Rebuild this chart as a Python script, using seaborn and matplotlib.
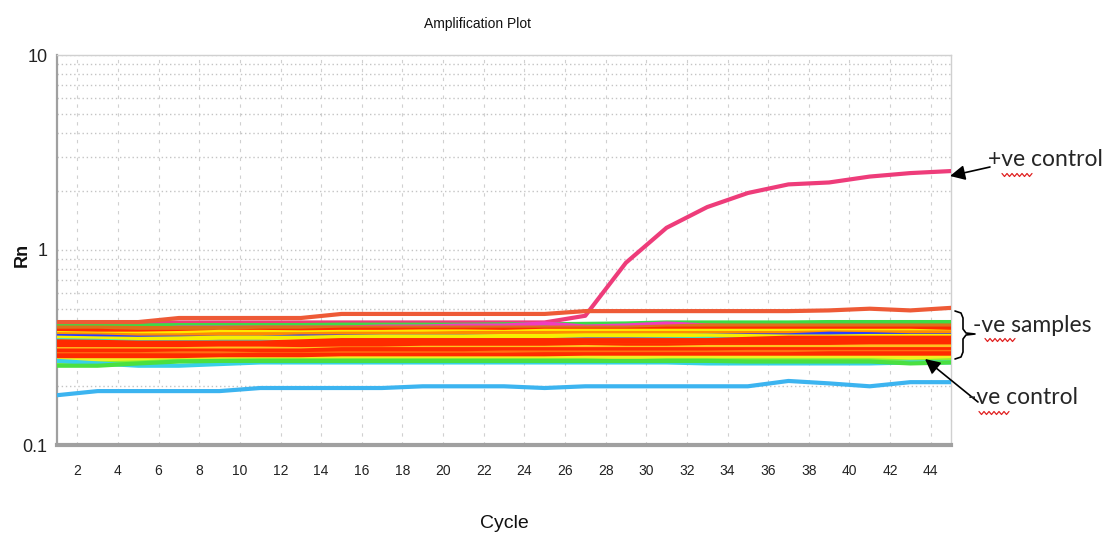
import numpy as np
import pandas as pd
import matplotlib
matplotlib.use("Agg")
import matplotlib.pyplot as plt
import seaborn as sns
from matplotlib.lines import Line2D
from matplotlib.ticker import FixedLocator, NullFormatter

# ---------------- data ----------------
cycles = list(range(1, 46, 2))  # 1,3,...,45
x_ticks = list(range(2, 45, 2))
y_ticks = [0.1, 1, 10]
y_tick_labels = ["0.1", "1", "10"]

pos_control = [0.425, 0.425, 0.425, 0.425, 0.425, 0.425, 0.425, 0.425, 0.425, 0.425, 0.425, 0.425, 0.425,
               0.46, 0.86, 1.30, 1.66, 1.96, 2.17, 2.22, 2.38, 2.48, 2.54]
neg_control = [0.18, 0.189, 0.189, 0.189, 0.189, 0.196, 0.196, 0.196, 0.196, 0.2, 0.2, 0.2, 0.196,
               0.2, 0.2, 0.2, 0.2, 0.2, 0.213, 0.207, 0.2, 0.21, 0.21]
top_sample = [0.427, 0.427, 0.427, 0.448, 0.448, 0.448, 0.448, 0.47, 0.47, 0.47, 0.47, 0.47, 0.47,
              0.486, 0.486, 0.486, 0.486, 0.486, 0.486, 0.49, 0.50, 0.49, 0.505]

band_colors = ["#3cdc46", "#f03cc0", "#e0701a", "#ff2a00", "#ffe800", "#ff8c00", "#2a3cff", "#f6f000",
               "#3ee0c0", "#ff2a00", "#ff9a20", "#ff2a00", "#ff2a00", "#ffc020", "#ff2a00", "#ff2a00",
               "#ff7010", "#ff2a00", "#ff2a00", "#f0f020", "#8cf030", "#38d0e8", "#4ae040"]
band_values = [
    [0.41, 0.41, 0.41, 0.412, 0.412, 0.412, 0.412, 0.414, 0.414, 0.414, 0.414, 0.416, 0.416, 0.418, 0.42, 0.425, 0.425, 0.425, 0.425, 0.427, 0.427, 0.427, 0.427],
    [0.36, 0.37, 0.39, 0.40, 0.40, 0.40, 0.40, 0.40, 0.405, 0.405, 0.41, 0.41, 0.42, 0.405, 0.41, 0.42, 0.41, 0.405, 0.405, 0.405, 0.405, 0.405, 0.405],
    [0.40, 0.40, 0.398, 0.398, 0.398, 0.40, 0.40, 0.40, 0.40, 0.40, 0.40, 0.40, 0.40, 0.40, 0.40, 0.405, 0.41, 0.41, 0.41, 0.41, 0.41, 0.41, 0.41],
    [0.385, 0.385, 0.38, 0.38, 0.38, 0.385, 0.385, 0.39, 0.39, 0.39, 0.39, 0.39, 0.39, 0.39, 0.39, 0.395, 0.395, 0.395, 0.395, 0.395, 0.395, 0.395, 0.395],
    [0.375, 0.372, 0.372, 0.375, 0.38, 0.38, 0.378, 0.38, 0.38, 0.382, 0.382, 0.38, 0.385, 0.385, 0.385, 0.385, 0.385, 0.385, 0.385, 0.385, 0.385, 0.385, 0.38],
    [0.37, 0.368, 0.365, 0.365, 0.37, 0.37, 0.37, 0.372, 0.372, 0.372, 0.375, 0.375, 0.375, 0.375, 0.375, 0.375, 0.375, 0.375, 0.375, 0.378, 0.378, 0.378, 0.378],
    [0.362, 0.36, 0.355, 0.355, 0.355, 0.355, 0.36, 0.36, 0.36, 0.36, 0.36, 0.36, 0.36, 0.36, 0.36, 0.36, 0.365, 0.365, 0.365, 0.372, 0.37, 0.365, 0.365],
    [0.355, 0.352, 0.35, 0.352, 0.355, 0.355, 0.355, 0.358, 0.36, 0.36, 0.36, 0.362, 0.362, 0.365, 0.365, 0.365, 0.365, 0.362, 0.36, 0.36, 0.362, 0.362, 0.362],
    [0.345, 0.342, 0.337, 0.337, 0.337, 0.337, 0.337, 0.337, 0.337, 0.338, 0.338, 0.34, 0.345, 0.345, 0.345, 0.348, 0.35, 0.348, 0.345, 0.345, 0.345, 0.345, 0.345],
    [0.34, 0.338, 0.335, 0.335, 0.335, 0.335, 0.34, 0.345, 0.345, 0.345, 0.345, 0.345, 0.345, 0.345, 0.345, 0.345, 0.345, 0.35, 0.355, 0.355, 0.355, 0.355, 0.355],
    [0.325, 0.325, 0.325, 0.325, 0.325, 0.322, 0.322, 0.322, 0.322, 0.325, 0.325, 0.325, 0.33, 0.335, 0.33, 0.33, 0.33, 0.332, 0.332, 0.335, 0.335, 0.335, 0.335],
    [0.33, 0.33, 0.33, 0.33, 0.33, 0.33, 0.33, 0.33, 0.33, 0.335, 0.335, 0.335, 0.335, 0.34, 0.34, 0.34, 0.34, 0.34, 0.34, 0.34, 0.345, 0.345, 0.345],
    [0.318, 0.318, 0.318, 0.318, 0.318, 0.318, 0.318, 0.32, 0.322, 0.322, 0.322, 0.322, 0.325, 0.325, 0.325, 0.325, 0.325, 0.325, 0.33, 0.33, 0.33, 0.33, 0.33],
    [0.31, 0.31, 0.31, 0.31, 0.312, 0.312, 0.31, 0.312, 0.312, 0.315, 0.315, 0.315, 0.315, 0.318, 0.315, 0.315, 0.318, 0.318, 0.318, 0.318, 0.32, 0.32, 0.32],
    [0.305, 0.305, 0.305, 0.305, 0.305, 0.305, 0.305, 0.31, 0.31, 0.31, 0.31, 0.31, 0.31, 0.31, 0.31, 0.31, 0.31, 0.31, 0.31, 0.31, 0.31, 0.31, 0.31],
    [0.298, 0.298, 0.298, 0.298, 0.3, 0.3, 0.3, 0.3, 0.3, 0.3, 0.302, 0.302, 0.302, 0.302, 0.302, 0.302, 0.305, 0.305, 0.305, 0.305, 0.305, 0.305, 0.305],
    [0.292, 0.292, 0.292, 0.295, 0.295, 0.292, 0.292, 0.295, 0.295, 0.295, 0.295, 0.298, 0.298, 0.298, 0.298, 0.298, 0.298, 0.3, 0.3, 0.3, 0.3, 0.3, 0.3],
    [0.288, 0.288, 0.288, 0.288, 0.288, 0.29, 0.29, 0.29, 0.29, 0.29, 0.29, 0.29, 0.292, 0.292, 0.292, 0.292, 0.292, 0.292, 0.292, 0.295, 0.295, 0.295, 0.295],
    [0.28, 0.28, 0.28, 0.282, 0.282, 0.282, 0.285, 0.285, 0.285, 0.285, 0.285, 0.285, 0.285, 0.285, 0.285, 0.288, 0.288, 0.288, 0.288, 0.288, 0.288, 0.29, 0.29],
    [0.272, 0.272, 0.272, 0.272, 0.275, 0.275, 0.275, 0.278, 0.278, 0.278, 0.278, 0.278, 0.278, 0.28, 0.28, 0.28, 0.28, 0.28, 0.28, 0.28, 0.28, 0.28, 0.28],
    [0.262, 0.262, 0.265, 0.27, 0.27, 0.272, 0.272, 0.272, 0.272, 0.272, 0.272, 0.272, 0.272, 0.272, 0.268, 0.272, 0.272, 0.272, 0.272, 0.272, 0.272, 0.268, 0.272],
    [0.27, 0.262, 0.255, 0.255, 0.26, 0.265, 0.265, 0.265, 0.265, 0.265, 0.265, 0.265, 0.265, 0.265, 0.265, 0.265, 0.262, 0.262, 0.262, 0.262, 0.262, 0.265, 0.265],
    [0.255, 0.255, 0.262, 0.268, 0.27, 0.27, 0.27, 0.27, 0.27, 0.27, 0.27, 0.27, 0.27, 0.27, 0.27, 0.27, 0.27, 0.268, 0.268, 0.268, 0.268, 0.262, 0.265],
]

# ---------------- build long table ----------------
rows = []
palette = {}
def add(name, vals, color):
    palette[name] = color
    for c, v in zip(cycles, vals):
        rows.append({"well": name, "Cycle": c, "Rn": v})

add("pos", pos_control, "#ee3c7a")
add("neg", neg_control, "#3cb4f0")
for i, (vals, col) in enumerate(zip(band_values, band_colors)):
    add(f"s{i:02d}", vals, col)
add("top", top_sample, "#ee5a36")
df = pd.DataFrame(rows)

# ---------------- figure ----------------
sns.set_style("white")
plt.rcParams["font.family"] = ["Liberation Sans", "DejaVu Sans"]

W, H = 1113, 535
fig = plt.figure(figsize=(W / 100, H / 100), dpi=100)
ax = fig.add_axes([57 / W, 1 - 445 / H, (951 - 57) / W, (445 - 55) / H])

sns.lineplot(data=df, x="Cycle", y="Rn", hue="well", palette=palette, hue_order=list(palette.keys()),
             estimator=None, linewidth=3.0, legend=False, ax=ax, zorder=3)

ax.set_yscale("log")
ax.set_ylim(0.1, 10)
ax.set_xlim(1, 45)
ax.set_xticks(x_ticks)
ax.set_xticklabels([str(t) for t in x_ticks], fontsize=10, color="#222222")
ax.set_yticks(y_ticks)
ax.set_yticklabels(y_tick_labels, fontsize=13, color="#222222")
ax.yaxis.set_minor_locator(FixedLocator([v * d for d in (0.1, 1) for v in range(2, 10)]))
ax.yaxis.set_minor_formatter(NullFormatter())

ax.grid(True, which="major", axis="x", linestyle=(0, (3, 5)), color="#d0d0d0", linewidth=0.8)
ax.grid(True, which="both", axis="y", linestyle=(0, (1, 2)), color="#c4c4c4", linewidth=1.0)
ax.tick_params(axis="x", which="major", direction="out", length=8, width=0.8, color="#999999", pad=6)
ax.tick_params(axis="y", which="major", direction="out", length=3, width=0.8, color="#999999", pad=4)
ax.tick_params(axis="y", which="minor", length=0)

for side in ("top", "right"):
    ax.spines[side].set_color("#d0d0d0")
    ax.spines[side].set_linewidth(1.0)
ax.spines["left"].set_color("#a0a0a0")
ax.spines["left"].set_linewidth(1.6)
ax.spines["bottom"].set_color("#a0a0a0")
ax.spines["bottom"].set_linewidth(3.0)

ax.set_xlabel("Cycle", fontsize=14, color="#111111", labelpad=26)
ax.set_ylabel("")
fig.text(22 / W, 1 - 255 / H, "Rn", rotation=90, fontsize=13, fontweight="bold",
         ha="center", va="center", color="#111111")
fig.text(478 / W, 1 - 24 / H, "Amplification Plot", fontsize=10, ha="center", va="center",
         color="#111111")

# ---------------- annotations ----------------
ann_font = ["Lato", "DejaVu Sans"]
def fp(x, y):
    return (x / W, 1 - y / H)

fig.text(*fp(988, 160), "+ve control", fontsize=16.5, family=ann_font, ha="left", va="center")
fig.text(*fp(973, 325), "-ve samples", fontsize=16.5, family=ann_font, ha="left", va="center")
fig.text(*fp(968, 398), "-ve control", fontsize=16.5, family=ann_font, ha="left", va="center")

arrowprops = dict(arrowstyle="-|>,head_length=0.9,head_width=0.45", color="black", lw=1.2,
                  shrinkA=0, shrinkB=0)
ax.annotate("", xy=fp(950, 176), xycoords="figure fraction", xytext=fp(990, 167),
            textcoords="figure fraction", arrowprops=arrowprops, annotation_clip=False)
ax.annotate("", xy=fp(925, 359), xycoords="figure fraction", xytext=fp(978, 402),
            textcoords="figure fraction", arrowprops=arrowprops, annotation_clip=False)

# brace
bx = [955, 961, 963, 963, 966, 975, 966, 963, 963, 961, 955]
by = [311, 313, 318, 329, 333, 334, 335, 339, 352, 357, 359]
fig.add_artist(Line2D([b / W for b in bx], [1 - b / H for b in by], color="black", lw=1.2))

# red spell-check squiggles under "ve"
def squiggle(x0, x1, y):
    xs = np.linspace(x0, x1, 13)
    ys = [y + (1.5 if i % 2 else -1.5) for i in range(len(xs))]
    fig.add_artist(Line2D(xs / W, [1 - v / H for v in ys], color="#e02020", lw=0.9))

squiggle(1002, 1032, 175)
squiggle(985, 1015, 340)
squiggle(979, 1009, 413)

fig.savefig("out.png", dpi=100)
